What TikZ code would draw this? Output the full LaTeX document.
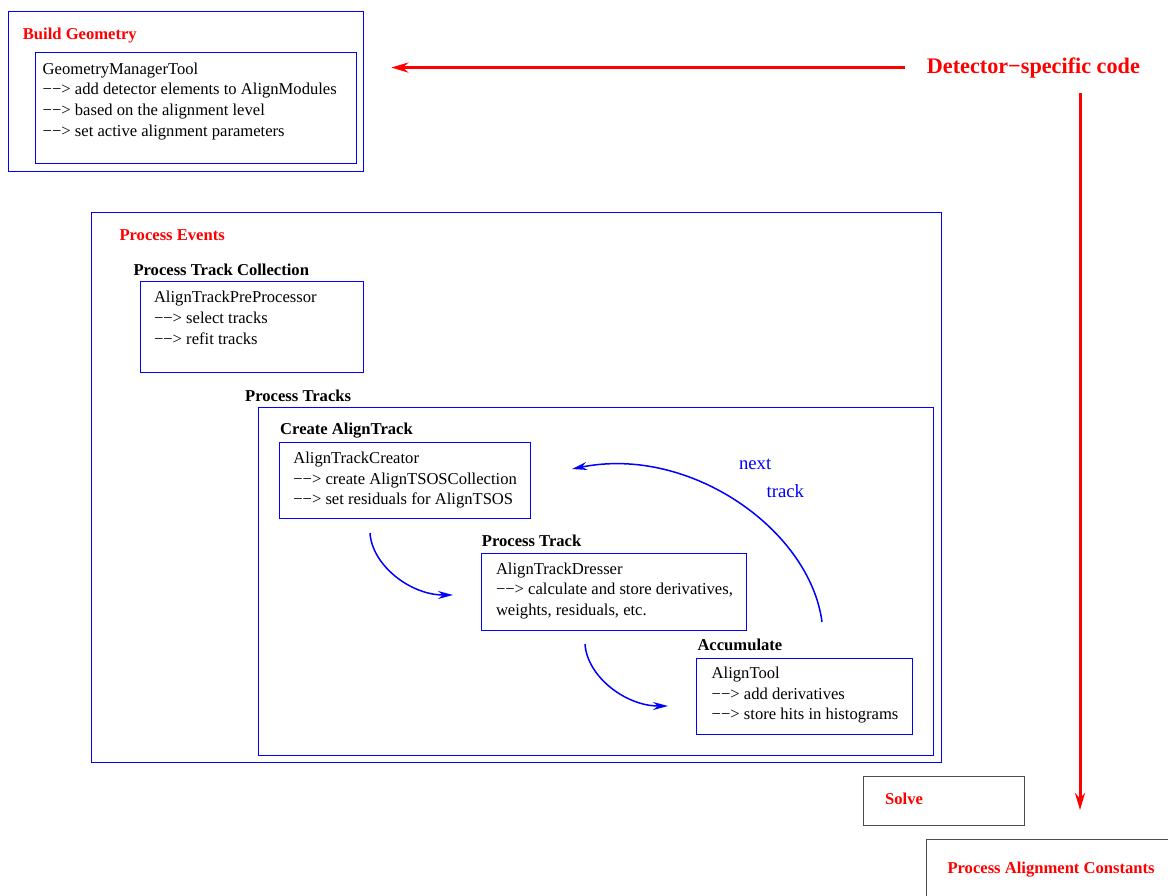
\documentclass[tikz,border=0pt]{standalone}
\usepackage{fontspec}
\setmainfont{Liberation Serif}
\usetikzlibrary{arrows.meta,positioning,calc}

\begin{document}
\begin{tikzpicture}[x=1pt, y=-1pt,
  frame/.style={draw=blue, line width=1pt, anchor=north west,
                inner sep=0pt, outer sep=0pt},
  plain/.style={frame, draw=black!70},
  tool/.style={inner sep=0pt, outer sep=0pt, align=left,
               font=\fontsize{16.6}{20.7}\selectfont},
  head/.style={anchor=base west, inner sep=0pt,
               font=\fontsize{16.6}{20}\selectfont\bfseries},
  stage/.style={head, text=red},
  loop/.style={-{Stealth[length=15pt,width=8pt]}, blue, line width=1.5pt},
  flow/.style={-{Stealth[length=17pt,width=10pt]}, red, line width=3pt}
]
\clip (0,0) rectangle (1168,895);

% geometry
\node[frame, minimum width=355pt, minimum height=160pt] (build) at (8.3,11) {};
\node[stage] (buildhd) at (22.7,39.3) {Build Geometry};
\node[frame, minimum width=320.3pt, minimum height=111pt] (geom) at (35.7,52.3) {};
\node[tool, below right=10.4pt and 7pt of geom.north west] (geomtxt)
  {GeometryManagerTool\\−−> add detector elements to AlignModules\\
   −−> based on the alignment level\\−−> set active alignment parameters};

% events
\node[frame, minimum width=849.3pt, minimum height=549.3pt] (events) at (91.7,212.7) {};
\node[stage] (eventshd) at (119.3,240) {Process Events};
\node[head] (collhd) at (133.3,275) {Process Track Collection};
\node[frame, minimum width=223.3pt, minimum height=91pt] (coll) at (140,281.7) {};
\node[tool, below right=9.7pt and 14pt of coll.north west] (colltxt)
  {AlignTrackPreProcessor\\−−> select tracks\\−−> refit tracks};

% tracks
\node[head] (trackshd) at (245,401) {Process Tracks};
\node[frame, minimum width=675pt, minimum height=347.7pt] (tracks) at (258.3,407.3) {};

\node[head] (creatorhd) at (280,434.3) {Create AlignTrack};
\node[frame, minimum width=250.7pt, minimum height=76pt] (creator) at (279.3,442.3) {};
\node[tool, below right=9.7pt and 14pt of creator.north west] (creatortxt)
  {AlignTrackCreator\\−−> create AlignTSOSCollection\\−−> set residuals for AlignTSOS};

\node[head] (dresserhd) at (481.7,546.7) {Process Track};
\node[frame, minimum width=265pt, minimum height=76.7pt] (dresser) at (481,553.3) {};
\node[tool, below right=9.4pt and 15pt of dresser.north west] (dressertxt)
  {AlignTrackDresser\\−−> calculate and store derivatives,\\weights, residuals, etc.};

\node[head] (accumhd) at (697.3,650.7) {Accumulate};
\node[frame, minimum width=216pt, minimum height=76.3pt] (accum) at (696.7,658) {};
\node[tool, below right=9pt and 15pt of accum.north west] (accumtxt)
  {AlignTool\\−−> add derivatives\\−−> store hits in histograms};

\node[tool, anchor=base west, text=blue, font=\fontsize{18.7}{20}\selectfont] (nexthd) at (739,469.8) {next};
\node[tool, anchor=base west, text=blue, font=\fontsize{18.7}{20}\selectfont] (trackhd) at (766.7,497.8) {track};

% solve and constants
\node[plain, minimum width=161pt, minimum height=49pt] (solve) at (863.3,776) {};
\node[stage] (solvehd) at (885,804) {Solve};
\node[plain, minimum width=300pt, minimum height=100pt] (consts) at (926.7,839) {};
\node[stage] (constshd) at (947.3,873.3) {Process Alignment Constants};

\node[anchor=base west, inner sep=0pt, text=red,
      font=\fontsize{22.2}{24}\selectfont\bfseries] (det) at (926.7,73) {Detector−specific code};

% connectors
\coordinate (detsrc) at ($(det.west)+(-22,0)$);
\coordinate (detdst) at ($(det.west -| build.east)+(28,0)$);
\coordinate (downsrc) at (1080,93);
\coordinate (downdst) at (1080,810);
\draw[flow] (detsrc) -- (detdst);
\draw[flow] (downsrc) -- (downdst);

\coordinate (c1s) at (370,533);
\coordinate (c1e) at (453,595);
\coordinate (c2s) at (585,644);
\coordinate (c2e) at (668,706);
\coordinate (c3s) at (822,622);
\coordinate (c3e) at (572,469);
\draw[loop] (c1s) .. controls (372,565) and (410,595) .. (c1e);
\draw[loop] (c2s) .. controls (587,676) and (625,706) .. (c2e);
\draw[loop] (c3s) .. controls (810,530) and (690,445) .. (c3e);
\end{tikzpicture}
\end{document}
